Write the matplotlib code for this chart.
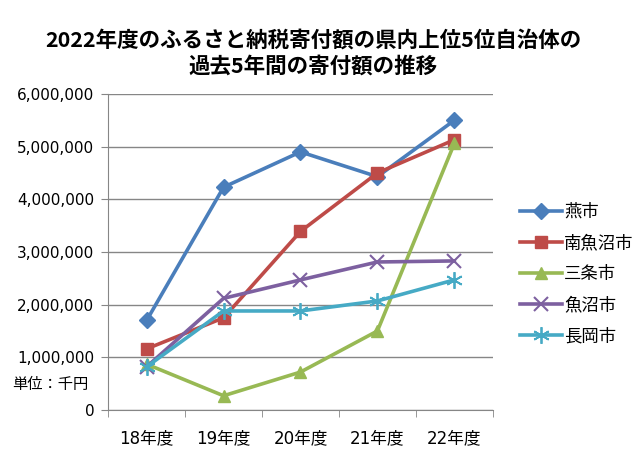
import matplotlib
matplotlib.use("Agg")
import matplotlib.pyplot as plt
from matplotlib.ticker import FuncFormatter, MultipleLocator

plt.rcParams["font.family"] = ["Noto Sans CJK JP", "DejaVu Sans"]

# ==========================
# DATA (単位: 千円)
# ==========================
years = ["18年度", "19年度", "20年度", "21年度", "22年度"]

tsubame = [1700000, 4230000, 4900000, 4430000, 5500000]
minamiuonuma = [1160000, 1750000, 3390000, 4500000, 5130000]
sanjo = [870000, 270000, 720000, 1500000, 5060000]
uonuma = [820000, 2120000, 2470000, 2810000, 2830000]
nagaoka = [820000, 1880000, 1880000, 2070000, 2470000]

series_names = ["燕市", "南魚沼市", "三条市", "魚沼市", "長岡市"]

# ==========================
# PLOT
# ==========================
fig = plt.figure(figsize=(6.4, 4.62), dpi=100)
ax = fig.add_axes([0.169, 0.1126, 0.601, 0.684])

x = list(range(len(years)))
styles = [
    (tsubame, "#4A7EBB", "D", 8, None),
    (minamiuonuma, "#BE4B48", "s", 9, None),
    (sanjo, "#98B954", "^", 9, None),
    (uonuma, "#7D60A0", "x", 10, 1.5),
    (nagaoka, "#46AAC5", (6, 2, 0), 12, 1.3),
]
for (vals, color, marker, ms, mew), name in zip(styles, series_names):
    kw = {}
    if mew is not None:
        kw["markeredgewidth"] = mew
    ax.plot(x, vals, color=color, linewidth=2.6, marker=marker,
            markersize=ms, markeredgecolor=color, markerfacecolor=color,
            label=name, **kw)

ax.set_xlim(-0.5, len(years) - 0.5)
ax.set_ylim(0, 6000000)
ax.yaxis.set_major_locator(MultipleLocator(1000000))
ax.yaxis.set_major_formatter(FuncFormatter(lambda v, p: f"{int(v):,}"))
ax.grid(axis="y", color="#868686", linewidth=1.0)
ax.set_axisbelow(True)

num_font = ["DejaVu Sans", "Noto Sans CJK JP"]

ax.set_xticks(x)
ax.set_xticklabels(years, family=num_font, fontsize=12)
ax.set_xticks([i - 0.5 for i in range(len(years) + 1)], minor=True)
ax.tick_params(axis="x", which="major", length=0, pad=14)
ax.tick_params(axis="x", which="minor", length=5, color="#868686", direction="out")
ax.tick_params(axis="y", length=5, color="#868686", pad=5)
for lbl in ax.get_yticklabels():
    lbl.set_family(num_font)
    lbl.set_fontsize(11)

for side in ["top", "right"]:
    ax.spines[side].set_visible(False)
for side in ["left", "bottom"]:
    ax.spines[side].set_color("#868686")

fig.text(88 / 640, 1 - 384 / 462, "単位：千円", ha="right", va="center", fontsize=11)

fig.text(313 / 640, 1 - 40 / 462, "2022年度のふるさと納税寄付額の県内上位5位自治体の",
         ha="center", va="center", fontsize=15.5, fontweight="bold")
fig.text(313 / 640, 1 - 66 / 462, "過去5年間の寄付額の推移",
         ha="center", va="center", fontsize=15.5, fontweight="bold")

ax.legend(loc="center left", bbox_to_anchor=(1.03, 0.43), frameon=False,
          fontsize=12.5, handlelength=2.4, handletextpad=0.15, labelspacing=0.75)

fig.savefig("out.png", dpi=100)
